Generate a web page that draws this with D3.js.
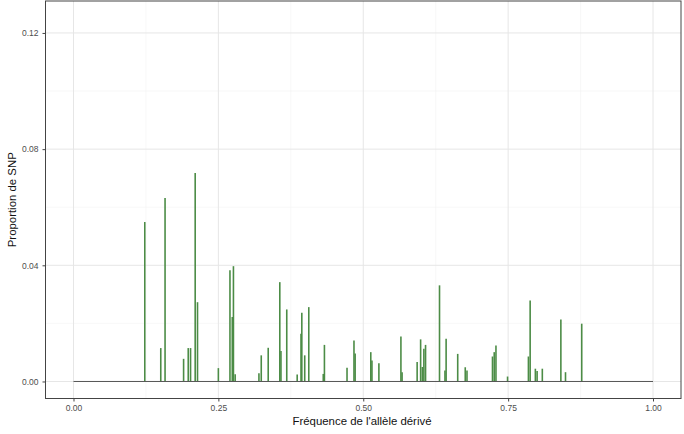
<!DOCTYPE html>
<html><head><meta charset="utf-8">
<script src="https://cdn.jsdelivr.net/npm/d3@7"></script>
<style>body{margin:0;background:#fff}svg{display:block}</style>
</head><body>
<svg id="c" width="684" height="434"></svg>
<script>
const freq = [0.123,0.1506,0.158,0.190,0.198,0.202,0.210,0.214,0.250,0.270,0.274,0.276,0.279,
  0.320,0.324,0.336,0.356,0.358,0.368,0.386,0.3926,0.394,0.399,0.406,0.431,0.433,0.472,0.484,0.486,
  0.513,0.515,0.527,0.565,0.567,0.593,0.599,0.602,0.6046,0.6075,0.6316,0.641,0.643,0.663,0.676,0.679,
  0.723,0.726,0.729,0.749,0.785,0.788,0.797,0.800,0.809,0.841,0.849,0.877];
const prop = [0.0549,0.0115,0.0632,0.0078,0.0115,0.0115,0.0718,0.0273,0.0046,0.0383,0.0222,0.0397,0.0025,
  0.0028,0.0090,0.0116,0.0342,0.0105,0.0248,0.0024,0.0164,0.0237,0.0090,0.0256,0.0026,0.0126,0.0047,0.0141,0.0096,
  0.0101,0.0072,0.0063,0.0155,0.0032,0.0067,0.0145,0.0050,0.0113,0.0126,0.0331,0.0038,0.0147,0.0095,0.0049,0.0038,
  0.0086,0.0101,0.0124,0.0017,0.0086,0.0279,0.0044,0.0036,0.0044,0.0213,0.0032,0.0199];
const xTicks = [0, 0.25, 0.5, 0.75, 1];
const yTicks = [0, 0.04, 0.08, 0.12];
const xMinor = [0.125, 0.375, 0.625, 0.875];
const yMinor = [0.02, 0.06, 0.10];
const xLabel = "Fréquence de l'allèle dérivé";
const yLabel = "Proportion de SNP";

const svg = d3.select("#c");
const L = 45.5, R = 681, T = 1, B = 398.5;
const x = d3.scaleLinear().domain([-0.0483, 1.0483]).range([L, R]);
const y = d3.scaleLinear().domain([-0.00586, 0.131]).range([B, T]);
const font = "Liberation Sans, Arial, sans-serif";

const g = svg.append("g");
g.append("rect").attr("x", L).attr("y", T).attr("width", R - L).attr("height", B - T).attr("fill", "#fff");
g.selectAll(".xm").data(xMinor).enter().append("line")
  .attr("x1", d => x(d)).attr("x2", d => x(d)).attr("y1", T).attr("y2", B)
  .attr("stroke", "#f3f3f3").attr("stroke-width", 0.6);
g.selectAll(".ym").data(yMinor).enter().append("line")
  .attr("y1", d => y(d)).attr("y2", d => y(d)).attr("x1", L).attr("x2", R)
  .attr("stroke", "#f3f3f3").attr("stroke-width", 0.6);
g.selectAll(".xg").data(xTicks).enter().append("line")
  .attr("x1", d => x(d)).attr("x2", d => x(d)).attr("y1", T).attr("y2", B)
  .attr("stroke", "#e6e6e6").attr("stroke-width", 1);
g.selectAll(".yg").data(yTicks).enter().append("line")
  .attr("y1", d => y(d)).attr("y2", d => y(d)).attr("x1", L).attr("x2", R)
  .attr("stroke", "#e6e6e6").attr("stroke-width", 1);

g.selectAll(".sp").data(freq.map((f, i) => ({f, v: prop[i]}))).enter().append("line")
  .attr("x1", d => x(d.f)).attr("x2", d => x(d.f))
  .attr("y1", y(0)).attr("y2", d => y(d.v))
  .attr("stroke", "#4c8c46").attr("stroke-width", 1.6);
g.append("line").attr("x1", x(0)).attr("x2", x(1)).attr("y1", y(0)).attr("y2", y(0))
  .attr("stroke", "#555").attr("stroke-width", 1);

g.append("rect").attr("x", L).attr("y", T).attr("width", R - L).attr("height", B - T)
  .attr("fill", "none").attr("stroke", "#444").attr("stroke-width", 1);

const xa = svg.append("g").attr("transform", `translate(0,${B})`)
  .call(d3.axisBottom(x).tickValues(xTicks).tickFormat(d3.format(".2f")).tickSize(3).tickPadding(3));
const ya = svg.append("g").attr("transform", `translate(${L},0)`)
  .call(d3.axisLeft(y).tickValues(yTicks).tickFormat(d3.format(".2f")).tickSize(3).tickPadding(4));
[xa, ya].forEach(a => {
  a.select(".domain").remove();
  a.selectAll(".tick line").attr("stroke", "#444");
  a.selectAll("text").attr("fill", "#4d4d4d").style("font-family", font).style("font-size", "8.5px");
});

svg.append("text").attr("x", 362).attr("y", 424.5).attr("text-anchor", "middle")
  .style("font-family", font).style("font-size", "11.4px").attr("fill", "#111").text(xLabel);
svg.append("text").attr("transform", `translate(16,${(T + B) / 2}) rotate(-90)`).attr("text-anchor", "middle")
  .style("font-family", font).style("font-size", "11.4px").attr("fill", "#111").text(yLabel);
</script>
</body></html>
